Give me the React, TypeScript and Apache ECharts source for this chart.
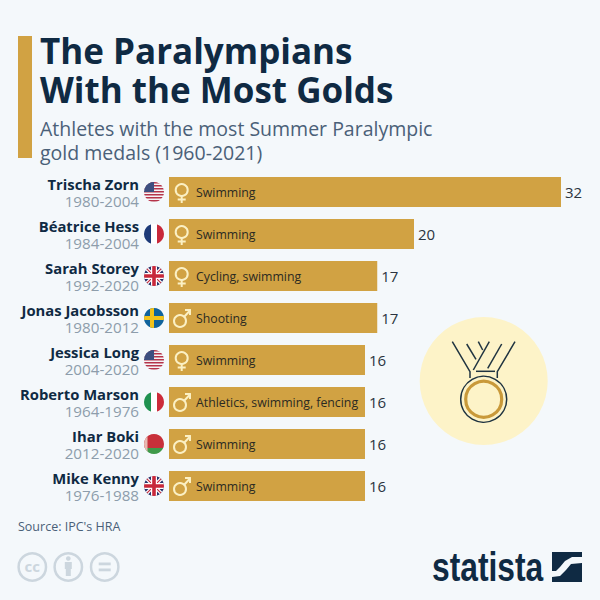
import React, { useEffect, useRef } from "react";
import * as echarts from "echarts";

const athletes = ["Trischa Zorn", "Béatrice Hess", "Sarah Storey", "Jonas Jacobsson", "Jessica Long", "Roberto Marson", "Ihar Boki", "Mike Kenny"];
const years = ["1980-2004", "1984-2004", "1992-2020", "1980-2012", "2004-2020", "1964-1976", "2012-2020", "1976-1988"];
const golds = [32, 20, 17, 17, 16, 16, 16, 16];
const disciplines = ["Swimming", "Swimming", "Cycling, swimming", "Shooting", "Swimming", "Athletics, swimming, fencing", "Swimming", "Swimming"];
const genders = ["f", "f", "f", "m", "f", "m", "m", "m"];
const countries = ["us", "fr", "uk", "se", "us", "it", "by", "uk"];

const GOLD = "#d1a243";
const NAVY = "#0f2a43";
const CREAM = "#fbf0c4";
const BG = "#f4f8fb";
const FONT = '"Open Sans", sans-serif';

function rect(x: number, y: number, width: number, height: number, fill: string) {
  return { type: "rect", shape: { x, y, width, height }, style: { fill } };
}
function bar(x1: number, y1: number, x2: number, y2: number, stroke: string, lineWidth: number) {
  return { type: "line", shape: { x1, y1, x2, y2 }, style: { stroke, lineWidth } };
}

function flag(code: string, cx: number, cy: number) {
  const l = cx - 10, t = cy - 10;
  let kids: any[] = [];
  if (code === "us") {
    kids.push(rect(l, t, 20, 20, "#f4f4f6"));
    [0, 3, 6, 9, 12, 15, 18].forEach((d) => kids.push(rect(l, t + d, 20, 1.5, "#b5344a")));
    kids.push(rect(l, t, 10, 10, "#3d4f80"));
  } else if (code === "fr") {
    kids = [rect(l, t, 7, 20, "#1d3a78"), rect(l + 7, t, 6, 20, "#ffffff"), rect(l + 13, t, 7, 20, "#c8283a")];
  } else if (code === "it") {
    kids = [rect(l, t, 7, 20, "#1f9150"), rect(l + 7, t, 6, 20, "#ffffff"), rect(l + 13, t, 7, 20, "#cc2b3a")];
  } else if (code === "se") {
    kids = [rect(l, t, 20, 20, "#10639c"), rect(l + 6, t, 4, 20, "#f2c21a"), rect(l, t + 8, 20, 4, "#f2c21a")];
  } else if (code === "by") {
    kids = [rect(l, t, 20, 14, "#c8303a"), rect(l, t + 14, 20, 6, "#3f9a4a"), rect(l, t, 3.5, 20, "#e8b8b0")];
  } else {
    kids = [
      rect(l, t, 20, 20, "#27336b"),
      bar(l, t, l + 20, t + 20, "#ffffff", 3.5),
      bar(l + 20, t, l, t + 20, "#ffffff", 3.5),
      bar(l, t, l + 20, t + 20, "#c8283a", 1.2),
      bar(l + 20, t, l, t + 20, "#c8283a", 1.2),
      rect(l + 7, t, 6, 20, "#ffffff"),
      rect(l, t + 7, 20, 6, "#ffffff"),
      rect(l + 8.2, t, 3.6, 20, "#c8283a"),
      rect(l, t + 8.2, 20, 3.6, "#c8283a"),
    ];
  }
  return { type: "group", children: kids, clipPath: { type: "circle", shape: { cx, cy, r: 10 } } };
}

function genderIcon(g: string, left: number, cy: number) {
  const style = { fill: "none", stroke: CREAM, lineWidth: 2 };
  if (g === "f") {
    const x = left + 12.7;
    return [
      { type: "circle", shape: { cx: x, cy: cy - 2, r: 6 }, style },
      bar(x, cy + 4, x, cy + 11, CREAM, 2),
      bar(x - 4, cy + 7.5, x + 4, cy + 7.5, CREAM, 2),
    ];
  }
  const x = left + 11;
  const y = cy + 3;
  return [
    { type: "circle", shape: { cx: x, cy: y, r: 6 }, style },
    bar(x + 4.2, y - 4.2, x + 10, y - 10.5, CREAM, 2),
    bar(x + 5, y - 11, x + 10.8, y - 11, CREAM, 2),
    bar(x + 10, y - 11.8, x + 10, y - 6, CREAM, 2),
  ];
}

function staticGraphics() {
  const txt = (text: string, x: number, y: number, size: number, weight: any, fill: string, extra: any = {}) => ({
    type: "text",
    style: { text, x, y, fill, font: `${weight} ${size}px ${FONT}`, verticalAlign: "middle", ...extra },
  });
  const cc = "#ccd6de";
  const ring = (cx: number) => ({ type: "circle", shape: { cx, cy: 567, r: 13.7 }, style: { fill: "none", stroke: cc, lineWidth: 2.5 } });
  const ribbon = [
    [[452.3, 341.7], [470, 371.7], [470, 378]],
    [[466.7, 344], [476, 359.3]],
    [[478.3, 341.7], [482.7, 350]],
    [[489.3, 341.7], [473.3, 370]],
    [[501.7, 344], [487.7, 368.3]],
    [[515, 341.7], [497.3, 371.7], [497.3, 378]],
    [[476, 371.3], [495, 371.3]],
  ];
  return [
    rect(18, 36, 14, 122, GOLD),
    txt("The Paralympians", 40, 50, 35, 700, NAVY),
    txt("With the Most Golds", 40, 89, 35, 700, NAVY),
    txt("Athletes with the most Summer Paralympic", 40, 128, 19.5, 400, "#4a6078"),
    txt("gold medals (1960-2021)", 40, 152, 19.5, 400, "#4a6078"),
    { type: "circle", shape: { cx: 483.7, cy: 381, r: 64 }, style: { fill: "#fdf3c8" } },
    ...ribbon.map((points) => ({ type: "polyline", shape: { points }, style: { fill: "none", stroke: "#1f3340", lineWidth: 1.5 } })),
    { type: "circle", shape: { cx: 483.7, cy: 399.3, r: 23 }, style: { fill: "none", stroke: "#1f3340", lineWidth: 1.5 } },
    { type: "circle", shape: { cx: 483.7, cy: 399.3, r: 18 }, style: { fill: "none", stroke: "#c9993a", lineWidth: 3.2 } },
    txt("Source: IPC's HRA", 18, 526, 12.5, 400, "#4a6078"),
    ring(32.3), ring(68.3), ring(104.7),
    txt("cc", 32.3, 566, 15, 700, cc, { align: "center" }),
    { type: "circle", shape: { cx: 68.3, cy: 558.5, r: 2.3 }, style: { fill: cc } },
    rect(64.8, 562, 7, 7, cc),
    rect(65.8, 568, 5, 8, cc),
    rect(98.7, 562.5, 12, 2.8, cc),
    rect(98.7, 568.5, 12, 2.8, cc),
    {
      type: "text",
      x: 432,
      y: 567,
      scaleX: 0.775,
      style: { text: "statista", x: 0, y: 0, fill: NAVY, font: 'bold 41px "Liberation Sans", sans-serif', verticalAlign: "middle" },
    },
    rect(552, 552, 30, 30, NAVY),
    {
      type: "polygon",
      shape: { points: [[552, 577], [560, 576], [566, 570], [571, 564], [582, 563], [582, 557], [572, 557], [565, 561], [560, 567], [556, 571], [552, 571]] },
      style: { fill: BG },
    },
  ];
}

export default function App() {
  const ref = useRef<HTMLDivElement>(null);
  useEffect(() => {
    document.body.style.margin = "0";
    document.body.style.background = BG;
    const chart = echarts.init(ref.current!, undefined, { renderer: "svg" });
    chart.setOption({
      animation: false,
      backgroundColor: BG,
      graphic: { elements: staticGraphics() },
      grid: { left: 169, top: 171, width: 392, height: 336, containLabel: false },
      xAxis: { type: "value", min: 0, max: 32, show: false },
      yAxis: {
        type: "category",
        inverse: true,
        data: athletes,
        axisLine: { show: false },
        axisTick: { show: false },
        axisLabel: {
          margin: 30,
          align: "right",
          formatter: (name: string, i: number) => `{n|${name}}\n{y|${years[i]}}`,
          rich: {
            n: { fontFamily: FONT, fontWeight: 700, fontSize: 14.8, color: NAVY, lineHeight: 17, align: "right" },
            y: { fontFamily: FONT, fontWeight: 400, fontSize: 15.2, color: "#8d9dab", lineHeight: 17, align: "right" },
          },
        },
      },
      series: [
        {
          type: "bar",
          data: golds,
          barWidth: 30,
          itemStyle: { color: GOLD },
          label: {
            show: true,
            position: "right",
            distance: 4,
            color: "#2b3440",
            fontFamily: FONT,
            fontSize: 15,
          },
        },
        {
          type: "custom",
          coordinateSystem: "cartesian2d",
          data: golds.map((v, i) => [0, i]),
          encode: { x: 0, y: 1 },
          z: 5,
          renderItem: (params: any, api: any) => {
            const i = api.value(1);
            const [left, cy] = api.coord([0, i]);
            return {
              type: "group",
              children: [
                flag(countries[i], left - 15, cy),
                ...genderIcon(genders[i], left, cy),
                {
                  type: "text",
                  style: {
                    text: disciplines[i],
                    x: left + 27,
                    y: cy,
                    fill: "#2b2a22",
                    font: `400 12.3px ${FONT}`,
                    verticalAlign: "middle",
                  },
                },
              ],
            };
          },
        },
      ],
    });
    return () => chart.dispose();
  }, []);
  return <div ref={ref} style={{ width: 600, height: 600 }} />;
}
